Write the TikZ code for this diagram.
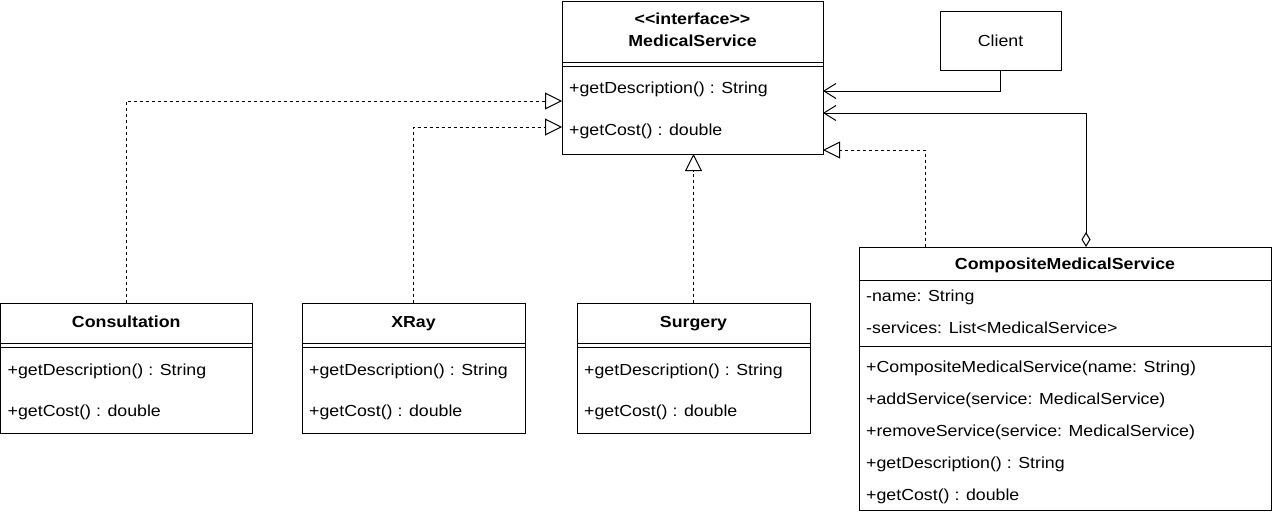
\documentclass[tikz,border=0pt]{standalone}
\usepackage{fontspec}
\setmainfont{Liberation Sans}[FakeStretch=1.11]
\usetikzlibrary{arrows.meta,calc}
\begin{document}
\begin{tikzpicture}[x=1pt,y=-1pt,
  box/.style={draw=black, line width=1pt, fill=white, anchor=north west, inner sep=0pt, outer sep=0pt},
  txt/.style={anchor=west, inner sep=0pt, font=\fontsize{16}{19}\selectfont},
  ttl/.style={anchor=center, inner sep=0pt, text height=11.6pt, text depth=0pt, font=\fontsize{16}{19}\selectfont\bfseries},
  sep/.style={draw=black, line width=1pt},
  dep/.style={draw=black, line width=1pt, dash pattern=on 3pt off 3pt, -{Triangle[open,length=17pt,width=17pt]}},
  assoc/.style={draw=black, line width=1pt, -{Straight Barb[length=12pt,width=15pt]}},
]
\useasboundingbox (0,0) rectangle (1272,514);
\fill[white] (0,0) rectangle (1272,514);

% MedicalService
\node[box, minimum width=261pt, minimum height=153pt] (ms) at (562,1) {};
\node[ttl] (ms-st) at ($(ms.north)+(0,18)$) {<\kern0pt<interface>\kern0pt>};
\node[ttl] (ms-nm) at ($(ms.north)+(0,40)$) {MedicalService};
\draw[sep] ([yshift=-61pt]ms.north west) -- ([yshift=-61pt]ms.north east);
\draw[sep] ([yshift=-65pt]ms.north west) -- ([yshift=-65pt]ms.north east);
\node[txt] (ms-m1) at ($(ms.north west)+(7,88)$) {+getDescription() : String};
\node[txt] (ms-m2) at ($(ms.north west)+(7,130)$) {+getCost() : double};

% Client
\node[box, minimum width=121pt, minimum height=59pt] (client) at (940,11) {};
\node[txt, anchor=center] (client-t) at (client.center) {Client};

% Small classes
\foreach \nm/\ttlt/\xx/\ww in {cons/Consultation/0.5/251.5, xray/XRay/302/223, surg/Surgery/577/233}{
  \node[box, minimum width=\ww pt, minimum height=130pt] (\nm) at (\xx,303) {};
  \node[ttl] (\nm-t) at ($(\nm.north)+(0,19)$) {\ttlt};
  \draw[sep] ([yshift=-40pt]\nm.north west) -- ([yshift=-40pt]\nm.north east);
  \draw[sep] ([yshift=-44pt]\nm.north west) -- ([yshift=-44pt]\nm.north east);
  \node[txt] (\nm-m1) at ($(\nm.north west)+(7,68.5)$) {+getDescription() : String};
  \node[txt] (\nm-m2) at ($(\nm.north west)+(7,109.5)$) {+getCost() : double};
}

% CompositeMedicalService
\node[box, minimum width=412pt, minimum height=263pt] (comp) at (859,247) {};
\node[ttl] (comp-t) at ($(comp.north)+(0,17)$) {CompositeMedicalService};
\draw[sep] ([yshift=-33pt]comp.north west) -- ([yshift=-33pt]comp.north east);
\node[txt] (comp-a1) at ($(comp.north west)+(7,50)$) {-name: String};
\node[txt] (comp-a2) at ($(comp.north west)+(7,81)$) {-services: List<MedicalService>};
\draw[sep] ([yshift=-99pt]comp.north west) -- ([yshift=-99pt]comp.north east);
\node[txt] (comp-m1) at ($(comp.north west)+(7,121)$) {+CompositeMedicalService(name: String)};
\node[txt] (comp-m2) at ($(comp.north west)+(7,153)$) {+addService(service: MedicalService)};
\node[txt] (comp-m3) at ($(comp.north west)+(7,185)$) {+removeService(service: MedicalService)};
\node[txt] (comp-m4) at ($(comp.north west)+(7,217)$) {+getDescription() : String};
\node[txt] (comp-m5) at ($(comp.north west)+(7,249)$) {+getCost() : double};

% Connectors
\draw[assoc] (client.south) |- ([yshift=-90pt]ms.north east);
\draw[assoc, {Diamond[open,length=15pt,width=9pt]}-{Straight Barb[length=12pt,width=15pt]}]
  ([xshift=227pt]comp.north west) |- ([yshift=-112pt]ms.north east);
\draw[dep] ([xshift=66pt]comp.north west) |- ([yshift=-149pt]ms.north east);
\draw[dep] (surg.north) -- (surg.north |- ms.south);
\draw[dep] (cons.north) |- ([yshift=-100pt]ms.north west);
\draw[dep] (xray.north) |- ([yshift=-126pt]ms.north west);
\end{tikzpicture}
\end{document}
